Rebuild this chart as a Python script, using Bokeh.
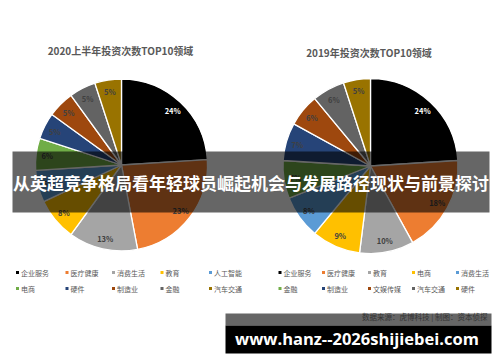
import numpy as np
from bokeh.plotting import figure
from bokeh.models import Range1d, ColumnDataSource
from bokeh.core.properties import value
from bokeh.embed import file_html
from bokeh.resources import INLINE

# ---- data ----
title_2020 = "2020上半年投资次数TOP10领域"
cats_2020 = ["企业服务", "医疗健康", "消费生活", "教育", "人工智能", "电商", "硬件", "制造业", "金融", "汽车交通"]
vals_2020 = [24, 23, 13, 8, 6, 6, 5, 5, 5, 5]

title_2019 = "2019年投资次数TOP10领域"
cats_2019 = ["企业服务", "医疗健康", "教育", "电商", "消费生活", "金融", "制造业", "文娱传媒", "汽车交通", "硬件"]
vals_2019 = [24, 18, 10, 9, 8, 7, 7, 6, 6, 5]

palette = ["#000000", "#ED7D31", "#A5A5A5", "#FFC000", "#5B9BD5",
           "#70AD47", "#264478", "#9E480E", "#636363", "#997300"]

headline = "从英超竞争格局看年轻球员崛起机会与发展路径现状与前景探讨"
source_note = "数据来源：虎博科技 | 制图：资本侦探"
site = "www.hanz--2026shijiebei.com"

CJK = "Noto Sans CJK SC"
W, H = 500, 362


def Y(y):
    return H - y


p = figure(width=W, height=H, output_backend="svg", toolbar_location=None,
           x_range=Range1d(0, W), y_range=Range1d(0, H), min_border=0)
p.axis.visible = False
p.grid.visible = False
p.outline_line_color = None
p.background_fill_color = "white"
p.border_fill_color = "white"


def pie(cx, cy, r, vals):
    tot = float(sum(vals))
    fr = np.cumsum([0] + list(vals)) / tot
    sc = fr[:-1] * 2 * np.pi
    ec = fr[1:] * 2 * np.pi
    start = np.pi / 2 - ec
    end = np.pi / 2 - sc
    src = ColumnDataSource(dict(start=start, end=end, color=palette[:len(vals)]))
    p.wedge(x=cx, y=Y(cy), radius=r, start_angle="start", end_angle="end",
            fill_color="color", line_color="white", line_width=1.3, source=src)
    mid = (start + end) / 2
    lx = cx + 0.87 * r * np.cos(mid)
    ly = Y(cy) + 0.87 * r * np.sin(mid)
    texts = [f"{v}%" for v in vals]
    cols = ["white"] + ["#404040"] * (len(vals) - 1)
    p.text(x=lx, y=ly, text=texts, text_color=cols, text_font=value(CJK), text_font_style="bold",
           text_font_size="7.5px", text_align="center", text_baseline="middle")


pie(121, 164.5, 86, vals_2020)
pie(370, 165.5, 87.5, vals_2019)

# titles
p.text(x=[120, 368.5], y=[Y(50), Y(52)], text=[title_2020, title_2019], text_color="#595959",
       text_font=value(CJK), text_font_style="bold", text_font_size="10px",
       text_align="center", text_baseline="middle")


def legend(xs, cats, order_colors):
    rows = [272, 288]
    for i, c in enumerate(cats):
        x = xs[i % 5]
        y = rows[i // 5]
        p.rect(x=x, y=Y(y), width=3, height=3, fill_color=order_colors[i], line_color=None)
        p.text(x=x + 3.5, y=Y(y), text=[c], text_color="#595959", text_font=value(CJK),
               text_font_size="7px", text_align="left", text_baseline="middle")


legend([17, 66.5, 113, 161.5, 210], cats_2020, palette)
legend([279.5, 323, 369, 413, 457], cats_2019, palette)

# headline band
p.quad(left=12, right=489, top=Y(151), bottom=Y(212), fill_color="black", fill_alpha=0.6, line_color=None)
p.text(x=[250.5], y=[Y(182)], text=[headline], text_color="white", text_font=value(CJK),
       text_font_style="bold", text_font_size="17px", text_align="center", text_baseline="middle")

# bottom banner
p.quad(left=225, right=491, top=Y(313), bottom=Y(325), fill_color="#666666", line_color=None)
p.quad(left=225, right=491, top=Y(325), bottom=Y(353), fill_color="black", line_color=None)
p.text(x=[487], y=[Y(315.5)], text=[source_note], text_color="#333333", text_font=value(CJK),
       text_font_size="7.5px", text_align="right", text_baseline="middle")
p.text(x=[356.5], y=[Y(338)], text=[site], text_color="white", text_font=value("Open Sans"),
       text_font_style="bold", text_font_size="16.5px", text_align="center", text_baseline="middle")

open("out.html", "w").write(file_html(p, INLINE))
